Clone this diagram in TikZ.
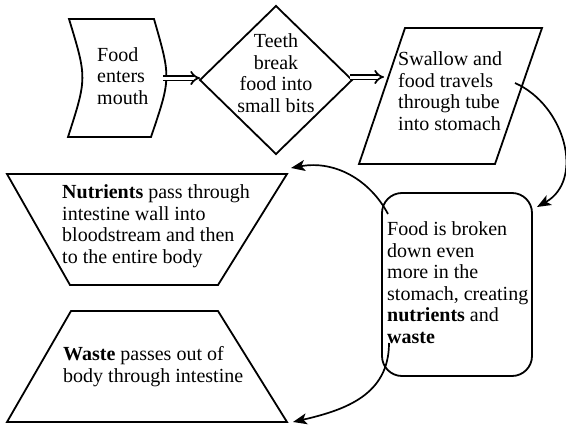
\documentclass[tikz,border=0pt]{standalone}
\usepackage{fontspec}
\setmainfont{Liberation Serif}
\usetikzlibrary{arrows.meta}
\begin{document}
\begin{tikzpicture}[x=1pt,y=-1pt,
  shapeline/.style={line width=1.8pt, line join=miter},
  txt/.style={anchor=base west, align=left, inner sep=0pt, font=\fontsize{20}{21.5}\selectfont},
  ctxt/.style={anchor=base, align=center, inner sep=0pt, font=\fontsize{20}{21.5}\selectfont},
  dbl/.style={double, double distance=3pt, line width=1.7pt, -{Implies}},
  flow/.style={line width=1.7pt, -{Stealth[length=14pt,width=11pt,inset=3.5pt]}}]
\useasboundingbox (0,0) rectangle (566,426);

% shapes
\draw[shapeline] (69,19) -- (154,19) .. controls (171,78) .. (151,137) -- (68,137) .. controls (87,78) .. cycle;
\draw[shapeline] (200,80) -- (276,6) -- (352,80) -- (276,154) -- cycle;
\draw[shapeline] (405,28) -- (542,28) -- (495,164) -- (359,164) -- cycle;
\draw[shapeline, rounded corners=20pt] (382,193) rectangle (532,376);
\draw[shapeline] (7,174) -- (287,174) -- (218,285) -- (70,285) -- cycle;
\draw[shapeline] (71,311) -- (218,311) -- (287,422) -- (7,422) -- cycle;

% texts (anchored at the baseline of the last line)
\node[txt] (mouth) at (97,104) {Food\\enters\\mouth};
\node[ctxt] (teeth) at (276,112) {Teeth\\break\\food into\\small bits};
\node[txt] (swallow) at (398,130) {Swallow and\\food travels\\through tube\\into stomach};
\node[txt] (stomach) at (387,343) {Food is broken\\down even\\more in the\\stomach, creating\\\textbf{nutrients} and\\\textbf{waste}};
\node[txt] (nutr) at (62,263) {\textbf{Nutrients} pass through\\intestine wall into\\bloodstream and then\\to the entire body};
\node[txt] (waste) at (63,382) {\textbf{Waste} passes out of\\body through intestine};

% connector endpoints
\coordinate (a1s) at (163,78);
\coordinate (a1e) at (200,78);
\coordinate (a2s) at (350,77);
\coordinate (a2e) at (384,77);
\coordinate (c1s) at (515,83);
\coordinate (c1e) at (537,207);
\coordinate (c2s) at (388,214);
\coordinate (c2e) at (291,168);
\coordinate (c3s) at (389,343);
\coordinate (c3e) at (293,422);

\draw[dbl] (a1s) -- (a1e);
\draw[dbl] (a2s) -- (a2e);
\draw[flow] (c1s) .. controls (565,105) and (585,180) .. (c1e);
\draw[flow] (c2s) .. controls (370,180) and (335,160) .. (c2e);
\draw[flow] (c3s) .. controls (389,395) and (345,410) .. (c3e);
\end{tikzpicture}
\end{document}
